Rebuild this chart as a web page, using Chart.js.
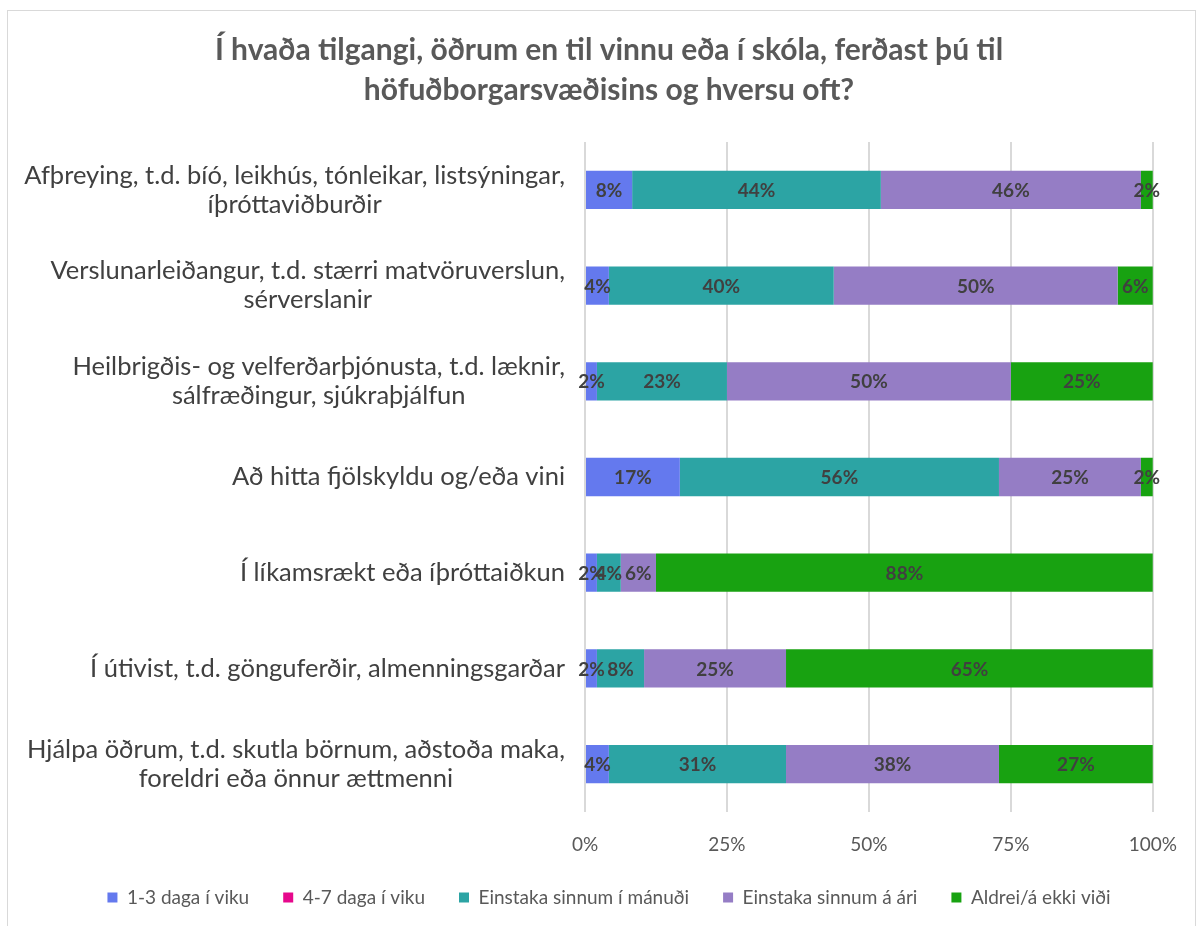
<!DOCTYPE html>
<html>
<head>
<meta charset="utf-8">
<script src="https://cdn.jsdelivr.net/npm/chart.js@4"></script>
<style>
  body { margin: 0; background: #fff; }
  #wrap { position: relative; width: 1198px; height: 926px; overflow: hidden; }
  #frame { position: absolute; left: 7px; top: 10px; width: 1187px; height: 930px; border: 1px solid #d9d9d9; }
  canvas { position: absolute; left: 0; top: 0; }
</style>
</head>
<body>
<div id="wrap">
  <div id="frame"></div>
  <canvas id="chart" width="1198" height="926"></canvas>
</div>
<script>
// categories (top to bottom)
const categories = [
    ["Afþreying, t.d. bíó, leikhús, tónleikar, listsýningar,", "íþróttaviðburðir"],
    ["Verslunarleiðangur, t.d. stærri matvöruverslun,", "sérverslanir"],
    ["Heilbrigðis- og velferðarþjónusta, t.d. læknir,", "sálfræðingur, sjúkraþjálfun"],
    ["Að hitta fjölskyldu og/eða vini"],
    ["Í líkamsrækt eða íþróttaiðkun"],
    ["Í útivist, t.d. gönguferðir, almenningsgarðar"],
    ["Hjálpa öðrum, t.d. skutla börnum, aðstoða maka,", "foreldri eða önnur ættmenni"]
];

const seriesNames = ["1-3 daga í viku", "4-7 daga í viku", "Einstaka sinnum í mánuði", "Einstaka sinnum á ári", "Aldrei/á ekki viði"];
const seriesColors = ["#6479EE", "#E6088C", "#2CA4A4", "#957DC5", "#18A211"];

// percent values
const daysPerWeek13 = [8.3, 4.2, 2.1, 16.7, 2.1, 2.1, 4.2];
const daysPerWeek47 = [0, 0, 0, 0, 0, 0, 0];
const fewPerMonth = [43.8, 39.6, 22.9, 56.2, 4.2, 8.3, 31.2];
const fewPerYear = [45.8, 50.0, 50.0, 25.0, 6.2, 25.0, 37.5];
const never = [2.1, 6.2, 25.0, 2.1, 87.5, 64.6, 27.1];

const xTicks = [0, 25, 50, 75, 100];

const fontFamily = "Lato, 'Open Sans', sans-serif";
const allSeries = [daysPerWeek13, daysPerWeek47, fewPerMonth, fewPerYear, never];

// draws the y labels: block right aligned, lines centered within the block
const yLabelPlugin = {
    id: "yLabels",
    afterDraw(chart) {
        const ctx = chart.ctx;
        const yScale = chart.scales.y;
        ctx.save();
        ctx.font = "25.5px " + fontFamily;
        ctx.fillStyle = "#404040";
        ctx.textAlign = "center";
        ctx.textBaseline = "middle";
        const rightX = yScale.right - 20;
        const lineH = 29;
        categories.forEach((lines, i) => {
            const y = yScale.getPixelForTick(i);
            const maxW = Math.max(...lines.map(l => ctx.measureText(l).width));
            const cx = rightX - maxW / 2;
            const startY = y - (lines.length - 1) * lineH / 2;
            lines.forEach((l, j) => ctx.fillText(l, cx, startY + j * lineH));
        });
        ctx.restore();
    }
};

// value labels in the middle of each segment
const valueLabelPlugin = {
    id: "valueLabels",
    afterDatasetsDraw(chart) {
        const ctx = chart.ctx;
        ctx.save();
        ctx.font = "bold 19px " + fontFamily;
        ctx.fillStyle = "#404040";
        ctx.textAlign = "center";
        ctx.textBaseline = "middle";
        chart.data.datasets.forEach((ds, di) => {
            const meta = chart.getDatasetMeta(di);
            meta.data.forEach((bar, i) => {
                const v = ds.data[i];
                if (!v) return;
                const p = bar.getProps(["x", "y", "base"], true);
                ctx.fillText(Math.round(v) + "%", (p.x + p.base) / 2, p.y + 1);
            });
        });
        ctx.restore();
    }
};

const ctx = document.getElementById("chart").getContext("2d");
new Chart(ctx, {
    type: "bar",
    data: {
        labels: categories,
        datasets: allSeries.map((data, i) => ({
            label: seriesNames[i],
            data: data,
            backgroundColor: seriesColors[i],
            borderWidth: 0,
            categoryPercentage: 0.4,
            barPercentage: 1
        }))
    },
    options: {
        indexAxis: "y",
        responsive: false,
        animation: false,
        layout: { padding: { left: 64, right: 44, top: 10, bottom: 9 } },
        plugins: {
            title: {
                display: true,
                text: ["Í hvaða tilgangi, öðrum en til vinnu eða í skóla, ferðast þú til", "höfuðborgarsvæðisins og hversu oft?"],
                color: "#595959",
                font: { family: fontFamily, size: 30, weight: "bold", lineHeight: 1.333 },
                padding: { top: 20, bottom: 32 }
            },
            legend: {
                position: "bottom",
                labels: {
                    color: "#595959",
                    font: { family: fontFamily, size: 19 },
                    boxWidth: 10,
                    boxHeight: 10,
                    padding: 34
                }
            },
            tooltip: { enabled: false }
        },
        scales: {
            x: {
                stacked: true,
                min: 0,
                max: 100,
                afterBuildTicks: scale => { scale.ticks = xTicks.map(v => ({ value: v })); },
                ticks: {
                    color: "#595959",
                    font: { family: fontFamily, size: 19 },
                    padding: 21,
                    callback: v => v + "%"
                },
                grid: { color: "#d9d9d9", lineWidth: 2, drawTicks: false },
                border: { display: false },
                afterFit: scale => { scale.height = 42; }
            },
            y: {
                stacked: true,
                ticks: { display: false },
                grid: { display: false },
                border: { display: false },
                afterFit: scale => { scale.width = 521; }
            }
        }
    },
    plugins: [yLabelPlugin, valueLabelPlugin]
});
</script>
</body>
</html>
